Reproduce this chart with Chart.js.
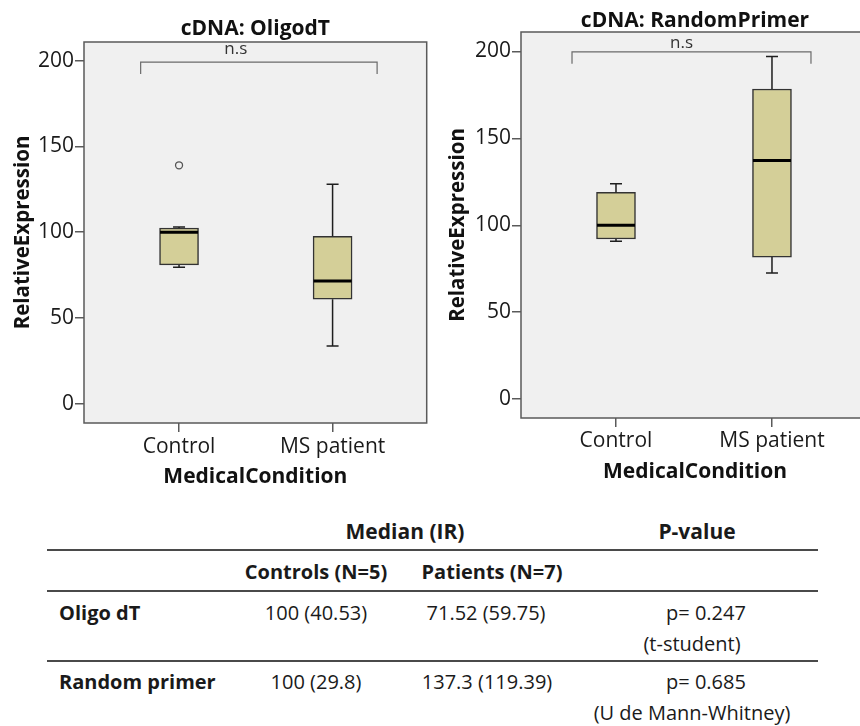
<!DOCTYPE html>
<html>
<head>
<meta charset="utf-8">
<script src="https://cdn.jsdelivr.net/npm/chart.js@4.4.1/dist/chart.umd.min.js"></script>
<style>
  body { margin:0; background:#fff; width:860px; height:726px; overflow:hidden; position:relative; font-family:"Open Sans", sans-serif; color:#1a1a1a; }
  #left { position:absolute; left:0; top:0; }
  #rightWrap { position:absolute; left:430px; top:0; width:430px; height:500px; overflow:hidden; }
  #right { position:absolute; left:0; top:0; }
  .t { position:absolute; font-size:20px; line-height:1; white-space:nowrap; transform:translate(-50%,-50%); }
  .l { position:absolute; font-size:20px; line-height:1; white-space:nowrap; transform:translate(0,-50%); }
  .b { font-weight:bold; }
  .rule { position:absolute; left:47px; width:771px; height:2px; background:#4a4a4a; }
</style>
</head>
<body>
<canvas id="left" width="432" height="500"></canvas>
<div id="rightWrap"><canvas id="right" width="441" height="500"></canvas></div>

<div class="t b" style="left:405px;top:531px;font-size:21px">Median (IR)</div>
<div class="t b" style="left:697px;top:531px;font-size:21px">P-value</div>
<div class="rule" style="top:549px"></div>
<div class="t b" style="left:316px;top:572px">Controls (N=5)</div>
<div class="t b" style="left:492px;top:572px">Patients (N=7)</div>
<div class="rule" style="top:590px"></div>
<div class="l b" style="left:59px;top:613px">Oligo dT</div>
<div class="t" style="left:316px;top:613px">100 (40.53)</div>
<div class="t" style="left:486px;top:613px">71.52 (59.75)</div>
<div class="t" style="left:706px;top:613px">p= 0.247</div>
<div class="t" style="left:692px;top:644px">(t-student)</div>
<div class="rule" style="top:660px"></div>
<div class="l b" style="left:59px;top:682px">Random primer</div>
<div class="t" style="left:316px;top:682px">100 (29.8)</div>
<div class="t" style="left:487px;top:682px">137.3 (119.39)</div>
<div class="t" style="left:706px;top:682px">p= 0.685</div>
<div class="t" style="left:692px;top:713px">(U de Mann-Whitney)</div>

<script>
const categories = ['Control', 'MS patient'];
const yTickValues = [0, 50, 100, 150, 200];

// box values: [min, q1, median, q3, max]
const oligoControl = [79.5, 80.9, 100, 102.4, 103];
const oligoPatient = [33.6, 60.9, 71.5, 97.6, 128];
const oligoOutliers = [{ group: 1, value: 139 }];

const randomControl = [90.8, 92.1, 100, 118.9, 123.9];
const randomPatient = [72.5, 81.7, 137.3, 178.4, 197.1];
const randomOutliers = [];

const FONT = '"Open Sans", sans-serif';
const boxFill = 'rgb(212, 207, 152)';

// whiskers, caps, median, frame and the n.s bracket
const boxParts = {
  id: 'boxParts',
  beforeDraw(chart) {
    const { ctx, chartArea: a } = chart;
    ctx.save();
    ctx.fillStyle = '#f0f0f0';
    ctx.fillRect(a.left, a.top, a.right - a.left, a.bottom - a.top);
    ctx.restore();
  },
  afterDatasetsDraw(chart, args, opts) {
    const { ctx, scales: { x, y } } = chart;
    ctx.save();
    opts.boxes.forEach((b, i) => {
      const px = x.getPixelForValue(i + 1);
      const [mn, q1, md, q3, mx] = b;
      ctx.strokeStyle = '#1e1e1e';
      ctx.lineWidth = 1.5;
      ctx.beginPath();
      ctx.moveTo(px, y.getPixelForValue(q3)); ctx.lineTo(px, y.getPixelForValue(mx));
      ctx.moveTo(px - 6, y.getPixelForValue(mx)); ctx.lineTo(px + 6, y.getPixelForValue(mx));
      ctx.moveTo(px, y.getPixelForValue(q1)); ctx.lineTo(px, y.getPixelForValue(mn));
      ctx.moveTo(px - 6, y.getPixelForValue(mn)); ctx.lineTo(px + 6, y.getPixelForValue(mn));
      ctx.stroke();
      ctx.lineWidth = 3;
      ctx.strokeStyle = '#000';
      ctx.beginPath();
      ctx.moveTo(px - 19, y.getPixelForValue(md)); ctx.lineTo(px + 19, y.getPixelForValue(md));
      ctx.stroke();
    });
    const br = opts.bracket;
    const x0 = x.getPixelForValue(br.from), x1 = x.getPixelForValue(br.to);
    const yt = y.getPixelForValue(br.top), yb = y.getPixelForValue(br.bottom);
    ctx.strokeStyle = '#6a6a6a';
    ctx.lineWidth = 1.2;
    ctx.beginPath();
    ctx.moveTo(x0, yb); ctx.lineTo(x0, yt); ctx.lineTo(x1, yt); ctx.lineTo(x1, yb);
    ctx.stroke();
    ctx.fillStyle = '#333';
    ctx.font = '17px ' + FONT;
    ctx.textAlign = 'center';
    ctx.textBaseline = 'middle';
    ctx.fillText(br.label, x.getPixelForValue(br.labelX), y.getPixelForValue(br.labelY));
    ctx.restore();
  },
  afterDraw(chart) {
    const { ctx, chartArea: a } = chart;
    ctx.save();
    ctx.strokeStyle = '#5a5a5a';
    ctx.lineWidth = 1.5;
    ctx.strokeRect(a.left, a.top, a.right - a.left, a.bottom - a.top);
    ctx.restore();
  }
};

function makeConfig(s) {
  return {
    type: 'bar',
    data: {
      datasets: [{
        type: 'bar',
        data: s.boxes.map((b, i) => ({ x: i + 1, y: [b[1], b[3]] })),
        backgroundColor: boxFill,
        borderColor: '#333',
        borderWidth: 1.5,
        borderSkipped: false,
        barThickness: 39
      }, {
        type: 'scatter',
        data: s.outliers.map(o => ({ x: o.group, y: o.value })),
        pointStyle: 'circle',
        pointRadius: 3.5,
        backgroundColor: 'rgba(0,0,0,0)',
        borderColor: '#555',
        borderWidth: 1.3
      }]
    },
    options: {
      responsive: false,
      animation: false,
      layout: { padding: { right: 2 } },
      plugins: {
        legend: { display: false },
        tooltip: { enabled: false },
        title: {
          display: true, text: s.title, fullSize: false, color: '#111',
          font: { family: FONT, size: 21, weight: 'bold', lineHeight: 1 },
          padding: s.titlePad
        },
        boxParts: { boxes: s.boxes, bracket: s.bracket }
      },
      scales: {
        x: {
          type: 'linear', min: s.xMin, max: s.xMax, offset: false,
          afterBuildTicks: sc => { sc.ticks = categories.map((c, i) => ({ value: i + 1 })); },
          ticks: {
            callback: v => categories[v - 1], color: '#1a1a1a', padding: s.xTickPad,
            autoSkip: false, maxRotation: 0, font: { family: FONT, size: 21 }
          },
          grid: { offset: false, drawOnChartArea: false, tickLength: 9, color: '#5a5a5a', lineWidth: 1.5 },
          border: { display: false },
          title: {
            display: true, text: 'MedicalCondition', color: '#111',
            font: { family: FONT, size: 21, weight: 'bold', lineHeight: 1.2 },
            padding: { top: 0, bottom: s.xTitlePad }
          },
          afterFit: sc => { sc.height = s.xHeight; }
        },
        y: {
          min: s.yMin, max: s.yMax,
          afterBuildTicks: sc => { sc.ticks = yTickValues.map(v => ({ value: v })); },
          ticks: { color: '#1a1a1a', padding: 1, font: { family: FONT, size: 21 } },
          grid: { drawOnChartArea: false, tickLength: 9, color: '#5a5a5a', lineWidth: 1.5 },
          border: { display: false },
          title: {
            display: true, text: 'RelativeExpression', color: '#111',
            font: { family: FONT, size: 20.5, weight: 'bold', lineHeight: 1.2 },
            padding: { top: s.yTitlePad, bottom: 0 }
          },
          afterFit: sc => { sc.width = s.yWidth; }
        }
      }
    },
    plugins: [boxParts]
  };
}

new Chart(document.getElementById('left'), makeConfig({
  title: 'cDNA: OligodT',
  boxes: [oligoControl, oligoPatient],
  outliers: oligoOutliers,
  bracket: { from: 0.75, to: 2.29, top: 199.2, bottom: 192.2, label: 'n.s', labelX: 1.37, labelY: 207 },
  xMin: 0.381, xMax: 2.613, yMin: -11.3, yMax: 210.9,
  titlePad: { top: 19, bottom: 2 },
  xTickPad: 2, xTitlePad: 10, xHeight: 77,
  yTitlePad: 11, yWidth: 84
}));

new Chart(document.getElementById('right'), makeConfig({
  title: 'cDNA: RandomPrimer',
  boxes: [randomControl, randomPatient],
  outliers: randomOutliers,
  bracket: { from: 0.718, to: 2.25, top: 199.8, bottom: 192.9, label: 'n.s', labelX: 1.42, labelY: 205 },
  xMin: 0.391, xMax: 2.622, yMin: -10.9, yMax: 211.2,
  titlePad: { top: 11, bottom: 0 },
  xTickPad: 1, xTitlePad: 15, xHeight: 82,
  yTitlePad: 16, yWidth: 91
}));
</script>
</body>
</html>
